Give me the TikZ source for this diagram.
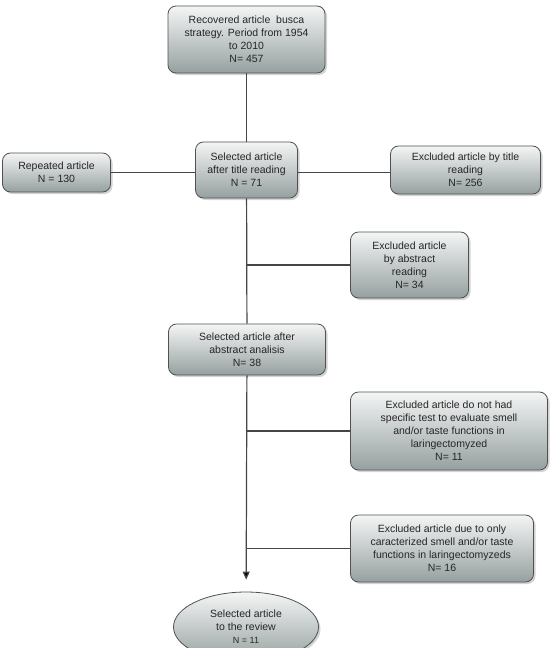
\documentclass[tikz,border=0pt]{standalone}
\usepackage{fontspec}
\setmainfont{Liberation Sans}
\usepackage{xcolor}
\usepackage{tikz}
\usetikzlibrary{shapes.geometric, arrows, arrows.meta, positioning, shadows}
\definecolor{boxtop}{RGB}{244,245,245}
\definecolor{boxbot}{RGB}{150,160,160}
\definecolor{edge}{RGB}{80,82,82}
\definecolor{wire}{RGB}{70,70,70}
\tikzset{
    stagebox/.style={rectangle, rounded corners=8pt, align=center, text=black!85, draw=edge, line width=0.8pt, top color=boxtop, bottom color=boxbot, font=\fontsize{10.5}{13}\selectfont, inner sep=2pt, drop shadow={opacity=0.35, shadow xshift=2pt, shadow yshift=-2pt}},
    endnode/.style={ellipse, align=center, text=black!85, draw=edge, line width=0.8pt, top color=boxtop, bottom color=boxbot, font=\fontsize{10.5}{13}\selectfont, inner sep=1pt, drop shadow={opacity=0.35, shadow xshift=2pt, shadow yshift=-2pt}},
    line/.style={draw=wire, line width=1.2pt},
    arrow/.style={line, -{Triangle[length=8pt, width=7pt, fill=black]}}
}

\begin{document}
\begin{tikzpicture}[x=1pt, y=1pt, node distance=95pt]
    \useasboundingbox (0,0) rectangle (549,-648);
    \node (rec) [stagebox, minimum width=157pt, minimum height=67pt] at (246.5,-39.5) {Recovered article\ \ busca\\strategy. Period from 1954\\to 2010\\N= 457};
    \node (sel) [stagebox, minimum width=102pt, minimum height=56pt, below of=rec, yshift=-35.5pt] {Selected article\\after title reading\\N = 71};
    \node (rep) [stagebox, minimum width=108pt, minimum height=39pt, left of=sel, xshift=-95pt, yshift=-2.5pt] {Repeated article\\N = 130};
    \node (ext) [stagebox, minimum width=150pt, minimum height=48pt, right of=sel, xshift=124pt] {Excluded article by title\\reading\\N= 256};
    \node (exa) [stagebox, minimum width=118pt, minimum height=66pt, below of=sel, xshift=163pt] {Excluded article\\by abstract\\reading\\N= 34};
    \node (abs) [stagebox, minimum width=157pt, minimum height=51pt, below of=exa, xshift=-162.5pt, yshift=10.5pt] {Selected article after\\abstract analisis\\N= 38};
    \node (exn) [stagebox, minimum width=197pt, minimum height=78pt, below of=abs, xshift=202pt, yshift=13.5pt] {Excluded article do not had\\specific test to evaluate smell\\and/or taste functions in\\laringectomyzed\\N= 11};
    \node (exo) [stagebox, minimum width=183pt, minimum height=67pt, below of=exn, xshift=-7pt, yshift=-22.5pt] {Excluded article due to only\\caracterized smell and/or taste\\functions in laringectomyzeds\\N= 16};
    \node (rev) [endnode, minimum width=145pt, minimum height=70pt, below of=abs, xshift=-1pt, yshift=-182.5pt] {Selected article\\to the review\\{\fontsize{9}{11}\selectfont N = 11}};

    \draw [line] (rec) -- (sel);
    \draw [line] (rep) -- (rep -| sel.west);
    \draw [line] (sel.east |- rep) -- (ext.west |- rep);
    \draw [line] (sel) -- (abs);
    \draw [line] (exa.west) -- (exa.west -| sel);
    \draw [line] (exn.west) -- (exn.west -| abs);
    \draw [line] (exo.west) -- (exo.west -| abs);
    \draw [arrow, shorten >=12pt] (abs) -- (rev);
\end{tikzpicture}
\end{document}
